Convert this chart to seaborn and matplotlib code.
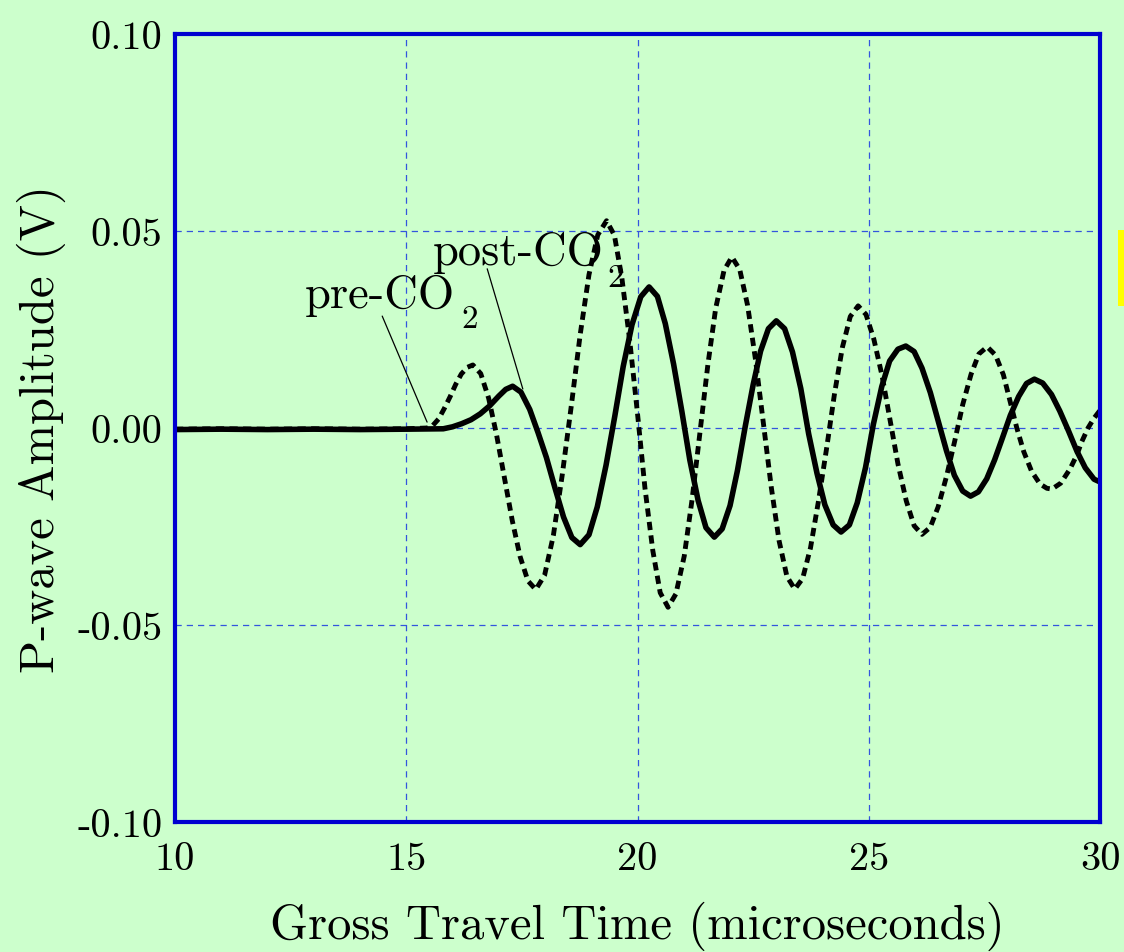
import matplotlib
matplotlib.use("Agg")
import matplotlib.pyplot as plt
from matplotlib.patches import Rectangle
import seaborn as sns

# ---------------- data ----------------
pre_time = [10.0, 11.0, 12.0, 13.0, 14.0, 15.0, 15.45, 15.57, 15.70, 15.82, 15.95, 16.07,
            16.19, 16.32, 16.44, 16.61, 16.78, 16.95, 17.12, 17.29, 17.46, 17.63, 17.80,
            17.99, 18.18, 18.37, 18.57, 18.76, 18.95, 19.14, 19.33, 19.50, 19.66, 19.83,
            20.00, 20.16, 20.33, 20.49, 20.66, 20.83, 21.01, 21.18, 21.35, 21.52, 21.69,
            21.87, 22.04, 22.21, 22.38, 22.55, 22.72, 22.89, 23.06, 23.23, 23.40, 23.57,
            23.74, 23.91, 24.09, 24.26, 24.43, 24.60, 24.77, 24.94, 25.11, 25.29, 25.46,
            25.63, 25.81, 25.98, 26.15, 26.33, 26.50, 26.68, 26.86, 27.03, 27.21, 27.38,
            27.56, 27.74, 27.91, 28.05, 28.20, 28.35, 28.52, 28.70, 28.85, 28.96, 29.15,
            29.35, 29.50, 29.60, 29.74, 29.87, 30.00]
pre_amp = [-0.0003, -0.0002, -0.0003, -0.0002, -0.0003, -0.0002, 0.0000, 0.0006, 0.0023,
           0.0049, 0.0080, 0.0111, 0.0137, 0.0154, 0.0160, 0.0138, 0.0076, -0.0016,
           -0.0125, -0.0234, -0.0326, -0.0388, -0.0410, -0.0374, -0.0273, -0.0121, 0.0058,
           0.0237, 0.0389, 0.0490, 0.0526, 0.0489, 0.0382, 0.0223, 0.0036, -0.0152,
           -0.0311, -0.0418, -0.0455, -0.0421, -0.0325, -0.0181, -0.0011, 0.0160, 0.0304,
           0.0400, 0.0434, 0.0402, 0.0311, 0.0174, 0.0013, -0.0149, -0.0286, -0.0377,
           -0.0409, -0.0382, -0.0304, -0.0187, -0.0050, 0.0088, 0.0205, 0.0283, 0.0310,
           0.0288, 0.0225, 0.0131, 0.0020, -0.0091, -0.0185, -0.0248, -0.0270, -0.0252,
           -0.0200, -0.0123, -0.0032, 0.0059, 0.0136, 0.0188, 0.0206, 0.0185, 0.0135,
           0.0070, 0.0000, -0.0060, -0.0110, -0.0142, -0.0153, -0.0155, -0.0140, -0.0104,
           -0.0068, -0.0036, 0.0000, 0.0025, 0.0045]

post_time = [10.0, 11.0, 12.0, 13.0, 14.0, 15.0, 15.8, 16.0, 16.2, 16.4, 16.6, 16.8, 17.0,
             17.15, 17.30, 17.48, 17.67, 17.85, 18.03, 18.21, 18.40, 18.58, 18.76, 18.95,
             19.13, 19.32, 19.51, 19.69, 19.88, 20.07, 20.25, 20.43, 20.60, 20.78, 20.96,
             21.13, 21.31, 21.48, 21.66, 21.83, 22.00, 22.16, 22.33, 22.50, 22.66, 22.83,
             23.00, 23.18, 23.35, 23.53, 23.70, 23.88, 24.05, 24.23, 24.40, 24.58, 24.75,
             24.93, 25.10, 25.28, 25.45, 25.63, 25.80, 25.98, 26.15, 26.33, 26.50, 26.68,
             26.85, 27.03, 27.20, 27.37, 27.55, 27.72, 27.89, 28.06, 28.24, 28.41, 28.58,
             28.76, 28.95, 29.13, 29.32, 29.50, 29.68, 29.87, 30.00]
post_amp = [-0.0004, -0.0003, -0.0004, -0.0003, -0.0004, -0.0003, -0.0002, 0.0003, 0.0011,
            0.0021, 0.0036, 0.0056, 0.0081, 0.0098, 0.0106, 0.0091, 0.0047, -0.0012,
            -0.0075, -0.0150, -0.0226, -0.0278, -0.0296, -0.0271, -0.0200, -0.0094, 0.0031,
            0.0156, 0.0262, 0.0333, 0.0358, 0.0334, 0.0265, 0.0162, 0.0041, -0.0081,
            -0.0184, -0.0253, -0.0277, -0.0256, -0.0197, -0.0108, 0.0005, 0.0110, 0.0195,
            0.0252, 0.0272, 0.0252, 0.0193, 0.0100, -0.0015, -0.0115, -0.0195, -0.0246,
            -0.0264, -0.0246, -0.0190, -0.0100, 0.0010, 0.0105, 0.0170, 0.0200, 0.0208,
            0.0194, 0.0152, 0.0090, 0.0018, -0.0058, -0.0120, -0.0160, -0.0173, -0.0162,
            -0.0129, -0.0081, -0.0025, 0.0032, 0.0080, 0.0113, 0.0124, 0.0114, 0.0085,
            0.0043, -0.0008, -0.0059, -0.0101, -0.0130, -0.0137]

x_ticks = [10, 15, 20, 25, 30]
x_tick_labels = ["10", "15", "20", "25", "30"]
y_ticks = [-0.10, -0.05, 0.00, 0.05, 0.10]
y_tick_labels = ["-0.10", "-0.05", "0.00", "0.05", "0.10"]
x_title = "Gross Travel Time (microseconds)"
y_title = "P-wave Amplitude (V)"
series_names = ["pre-CO", "post-CO"]
subscript = "2"

# annotation anchors (label position, leader start, leader end on the curve)
pre_label_xy = (12.81, 0.0307)
pre_sub_xy = (16.20, 0.0256)
pre_leader = ((14.48, 0.0284), (15.45, 0.0015))
post_label_xy = (15.58, 0.0416)
post_sub_xy = (19.34, 0.0360)
post_leader = ((16.75, 0.0404), (17.52, 0.0099))

# ---------------- style ----------------
BG = "#CCFFCC"
sns.set_style("white")
plt.rcParams["font.family"] = ["cmr10", "DejaVu Serif"]
plt.rcParams["axes.unicode_minus"] = False
plt.rcParams["text.color"] = "black"
plt.rcParams["axes.labelcolor"] = "black"
plt.rcParams["xtick.color"] = "black"
plt.rcParams["ytick.color"] = "black"

fig = plt.figure(figsize=(11.24, 9.53), dpi=100, facecolor=BG)
ax = fig.add_axes([0.1557, 0.1364, 0.8230, 0.8269])
ax.set_facecolor(BG)

sns.lineplot(x=pre_time, y=pre_amp, ax=ax, color="black", linewidth=3.5,
             linestyle=(0, (1.7, 1.1)), estimator=None, sort=False)
sns.lineplot(x=post_time, y=post_amp, ax=ax, color="black", linewidth=4.0,
             estimator=None, sort=False)

ax.set_xlim(10, 30)
ax.set_ylim(-0.10, 0.10)
ax.set_xticks(x_ticks, labels=x_tick_labels)
ax.set_yticks(y_ticks, labels=y_tick_labels)
ax.tick_params(axis="both", length=0, labelsize=29, colors="black",
               labelcolor="black")
ax.tick_params(axis="x", pad=14)
ax.tick_params(axis="y", pad=9)

ax.grid(True, color="#3355DD", linewidth=0.9, linestyle=(0, (5, 4)))
ax.set_axisbelow(True)

for s in ax.spines.values():
    s.set_visible(True)
    s.set_color("#0000D0")
    s.set_linewidth(3)
    s.set_zorder(5)

ax.set_xlabel(x_title, fontsize=35, labelpad=17, color="black")
ax.set_ylabel(y_title, fontsize=35, labelpad=8, color="black")

# annotations
for (start, end) in (pre_leader, post_leader):
    ax.annotate("", xy=end, xytext=start,
                arrowprops=dict(arrowstyle="-", color="black", lw=0.9,
                                shrinkA=0, shrinkB=0))
ax.text(*pre_label_xy, series_names[0], fontsize=33.5, ha="left", va="baseline", color="black")
ax.text(*pre_sub_xy, subscript, fontsize=24, ha="left", va="baseline", color="black")
ax.text(*post_label_xy, series_names[1], fontsize=33.5, ha="left", va="baseline", color="black")
ax.text(*post_sub_xy, subscript, fontsize=24, ha="left", va="baseline", color="black")

# yellow marker at the right edge of the figure
fig.add_artist(Rectangle((1117.5 / 1124, 1 - 307 / 953), 6.5 / 1124, 76 / 953,
                         transform=fig.transFigure, color="#FFFF00", lw=0))

fig.savefig("out.png", dpi=100, facecolor=BG)
